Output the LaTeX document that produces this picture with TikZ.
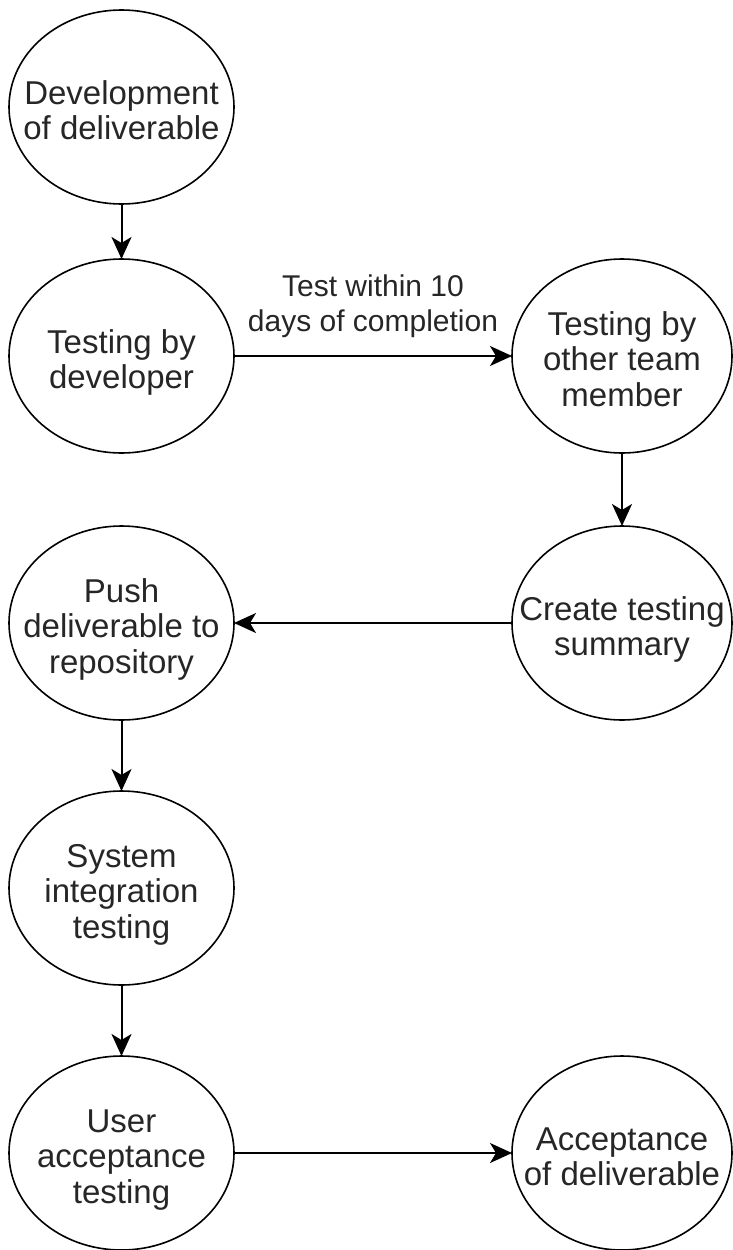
\documentclass[tikz,border=0pt]{standalone}
\usepackage{fontspec}
\setmainfont{Liberation Sans}
\usetikzlibrary{shapes.geometric,arrows.meta}
\newcommand\etext[1]{\raisebox{-14pt}[0pt][0pt]{\makebox[0pt]{\begin{tabular}{@{}c@{}}#1\end{tabular}}}}
\tikzset{
  stage/.style={ellipse, draw=black, line width=1.6pt, minimum width=225pt, minimum height=194pt,
    inner sep=0pt, outer sep=0pt, text=black!85, font=\fontsize{33}{35.5}\selectfont},
  rstage/.style={stage, minimum width=220pt},
  flow/.style={draw=black, line width=2pt, -{Stealth[length=22pt,width=20pt,inset=6pt]}},
  elabel/.style={align=center, text=black!85, font=\fontsize{30}{35}\selectfont, inner sep=0pt}
}
\begin{document}
\begin{tikzpicture}[x=1pt,y=-1pt]
\useasboundingbox (0,0) rectangle (732,1250);
\node[stage]  (dev)    at (121.5,107)  {\etext{Development\\of deliverable}};
\node[stage]  (tdev)   at (121.5,356)  {\etext{Testing by\\developer}};
\node[rstage] (tother) at (622,356)    {\etext{Testing by\\other team\\member}};
\node[rstage] (summ)   at (622,623)    {\etext{Create testing\\summary}};
\node[stage]  (push)   at (121.5,623)  {\etext{Push\\deliverable to\\repository}};
\node[stage]  (sys)    at (121.5,888)  {\etext{System\\integration\\testing}};
\node[stage]  (uat)    at (121.5,1153) {\etext{User\\acceptance\\testing}};
\node[rstage] (acc)    at (622,1153)   {\etext{Acceptance\\of deliverable}};
\draw[flow] (dev) -- (tdev);
\draw[flow] (tdev) -- node[elabel, midway, yshift=50pt] (lbl) {Test within 10\\days of completion} (tother);
\draw[flow] (tother) -- (summ);
\draw[flow] (summ) -- (push);
\draw[flow] (push) -- (sys);
\draw[flow] (sys) -- (uat);
\draw[flow] (uat) -- (acc);
\end{tikzpicture}
\end{document}
